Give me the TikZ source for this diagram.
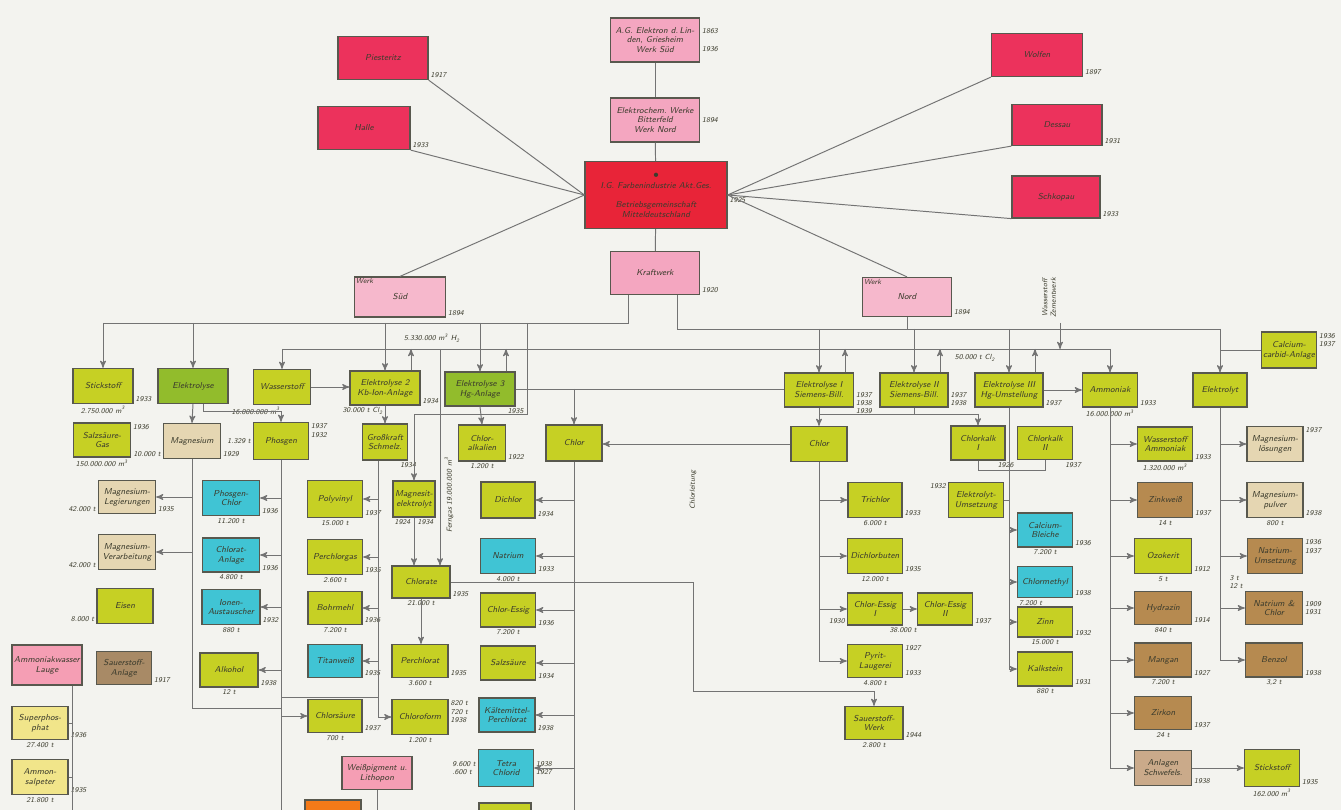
\documentclass[tikz,border=0pt]{standalone}
\usepackage[svgnames]{xcolor}
\usepackage{tikz}
\usetikzlibrary{arrows,calc}

\definecolor{paper}{RGB}{243,243,239}
\definecolor{cRed}{RGB}{232,36,56}
\definecolor{cCrimson}{RGB}{236,50,92}
\definecolor{cRose}{RGB}{244,166,192}
\definecolor{cPink}{RGB}{246,184,204}
\definecolor{cLime}{RGB}{198,208,36}
\definecolor{cLeaf}{RGB}{146,188,44}
\definecolor{cSand}{RGB}{229,214,178}
\definecolor{cAqua}{RGB}{64,196,212}
\definecolor{cOchre}{RGB}{182,138,80}
\definecolor{cTan}{RGB}{202,170,138}
\definecolor{cClay}{RGB}{168,138,102}
\definecolor{cStraw}{RGB}{241,229,138}
\definecolor{cSalmon}{RGB}{245,158,180}
\definecolor{cOrange}{RGB}{245,122,24}
\definecolor{cFrame}{RGB}{88,88,78}
\definecolor{wire}{RGB}{115,115,115}
\definecolor{ink}{RGB}{60,60,45}

\newcommand{\cube}{m\textsuperscript{3}}

\tikzset{
  plant/.style={draw=cFrame, line width=0.7pt, minimum width=1.1cm, minimum height=0.68cm,
    inner sep=0.5pt, align=center, text=ink, font=\fontsize{4.9}{5.6}\selectfont\sffamily\itshape},
  sz/.style 2 args={minimum width=#1*0.02cm, minimum height=#2*0.02cm},
  redbox/.style={plant,fill=cRed},
  crimsonbox/.style={plant,fill=cCrimson},
  rosebox/.style={plant,fill=cRose},
  pinkbox/.style={plant,fill=cPink},
  limebox/.style={plant,fill=cLime},
  leafbox/.style={plant,fill=cLeaf},
  sandbox/.style={plant,fill=cSand},
  aquabox/.style={plant,fill=cAqua},
  ochrebox/.style={plant,fill=cOchre},
  tanbox/.style={plant,fill=cTan},
  claybox/.style={plant,fill=cClay},
  strawbox/.style={plant,fill=cStraw},
  salmonbox/.style={plant,fill=cSalmon},
  orangebox/.style={plant,fill=cOrange},
  yr/.style={font=\fontsize{4.2}{4.8}\selectfont\sffamily\itshape, text=ink, inner sep=1pt, align=left},
  yrr/.style={label={[yr,anchor=south west]south east:#1}},
  qty/.style={label={[yr,anchor=north]south:#1}},
  qleft/.style={label={[yr,anchor=east]west:#1}},
  qright/.style={label={[yr,anchor=west]east:#1}},
  ln/.style={draw=wire, line width=0.55pt},
  arr/.style={ln, ->, >=stealth'},
}

\begin{document}
\begin{tikzpicture}[x=0.02cm,y=-0.02cm]
\useasboundingbox (0,0) rectangle (1341,810);
\clip (0,0) rectangle (1341,810);
\fill[paper] (0,0) rectangle (1341,810);

% head office and works
\node[rosebox,sz={89}{44},qright={1863\\[5pt]1936}] (sued0) at (655,40) {A.G. Elektron d.\,Lin-\\den, Griesheim\\Werk Süd};
\node[rosebox,sz={89}{44},qright=1894] (nord0) at (655,120) {Elektrochem.\ Werke\\Bitterfeld\\Werk Nord};
\node[redbox,sz={142}{67},label={[yr,anchor=north west]east:1925}] (ig) at (656,195)
  {$\bullet$\\[1pt]I.G. Farbenindustrie Akt.Ges.\\[5pt]Betriebsgemeinschaft\\Mitteldeutschland};
\node[rosebox,sz={89}{43},yrr=1920] (erd) at (655,273) {Kraftwerk};
\node[crimsonbox,sz={90}{43},yrr=1917] (piest) at (383,58) {Piesteritz};
\node[crimsonbox,sz={92}{43},yrr=1933] (halle) at (364,128) {Halle};
\node[crimsonbox,sz={91}{43},yrr=1897] (wolfen) at (1037,55) {Wolfen};
\node[crimsonbox,sz={90}{41},yrr=1931] (dessau) at (1057,125) {Dessau};
\node[crimsonbox,sz={88}{42},yrr=1933] (schkop) at (1056,197) {Schkopau};
\node[pinkbox,sz={91}{40},yrr=1894,label={[yr,anchor=north west]north west:Werk}] (sued) at (400,297) {Süd};
\node[pinkbox,sz={89}{39},yrr=1894,label={[yr,anchor=north west]north west:Werk}] (nord) at (907,297) {Nord};

\draw[ln] (ig.west) -- (piest.south east);
\draw[ln] (ig.west) -- (halle.south east);
\draw[ln] (ig.west) -- (sued.north);
\draw[ln] (ig.east) -- (wolfen.south west);
\draw[ln] (ig.east) -- (dessau.south west);
\draw[ln] (ig.east) -- (schkop.south west);
\draw[ln] (ig.east) -- (nord.north);
\draw[ln] (sued0) -- (nord0);
\draw[ln] (nord0) -- (ig);
\draw[ln] (ig) -- (erd);

% first row
\node[limebox,sz={60}{35},yrr=1933,qty={2.750.000 \cube}] (stick) at (103,386) {Stickstoff};
\node[leafbox,sz={70}{35}] (elek) at (193,386) {Elektrolyse};
\node[limebox,sz={57}{35},label={[yr,anchor=north east]south:16.000.000 \cube}] (wass) at (282,387) {Wasserstoff};
\node[limebox,sz={70}{34},yrr=1934,label={[yr,anchor=north east]south:30.000 t Cl\textsubscript{2}}] (el2) at (385,388) {Elektrolyse 2\\Kb-Ion-Anlage};
\node[leafbox,sz={70}{34},label={[yr,anchor=north]south east:1935}] (el3) at (480,389) {Elektrolyse 3\\Hg-Anlage};
\node[limebox,sz={69}{34},label={[yr,anchor=north west]east:1937\\1938\\1939}] (elI) at (819,390) {Elektrolyse I\\Siemens-Bill.};
\node[limebox,sz={68}{34},label={[yr,anchor=north west]east:1937\\1938}] (elII) at (914,390) {Elektrolyse II\\Siemens-Bill.};
\node[limebox,sz={68}{34},yrr=1937] (elIII) at (1009,390) {Elektrolyse III\\Hg-Umstellung};
\node[limebox,sz={55}{34},yrr=1933,qty={16.000.000 \cube}] (amm) at (1110,390) {Ammoniak};
\node[limebox,sz={54}{34}] (elyt) at (1220,390) {Elektrolyt};
\node[limebox,sz={55}{36},label={[yr,anchor=north west]north east:1936\\1937}] (calc) at (1289,350) {Calcium-\\carbid-Anlage};

% second row
\node[limebox,sz={57}{34},label={[yr,anchor=north west]north east:1936},qty={150.000.000 \cube}] (salz) at (102,440) {Salzsäure-\\Gas};
\node[sandbox,sz={57}{35},yrr=1929,label={[yr,anchor=south east]south west:10.000 t}] (mag) at (192,441) {Magnesium};
\node[limebox,sz={55}{37},qleft={1.329 t},label={[yr,anchor=north west]north east:1937\\1932}] (phos) at (281,441) {Phosgen};
\node[limebox,sz={45}{36},label={[yr,anchor=north]south east:1934}] (gross) at (385,442) {Großkraft\\Schmelz.};
\node[limebox,sz={47}{36},yrr=1922,qty={1.200 t}] (chalk) at (482,443) {Chlor-\\alkalien};
\node[limebox,sz={56}{36}] (chlL) at (574,443) {Chlor};
\node[limebox,sz={56}{35}] (chlR) at (819,444) {Chlor};
\node[limebox,sz={54}{34},label={[yr,anchor=north]south east:1926}] (ckI) at (978,443) {Chlorkalk\\I};
\node[limebox,sz={55}{33},label={[yr,anchor=north]south east:1937}] (ckII) at (1045,443) {Chlorkalk\\II};
\node[limebox,sz={55}{34},yrr=1933,qty={1.320.000 \cube}] (wamm) at (1165,444) {Wasserstoff\\Ammoniak};
\node[sandbox,sz={56}{35},label={[yr,anchor=north west]north east:1937}] (mgl) at (1275,444) {Magnesium-\\lösungen};

% third row
\node[sandbox,sz={57}{33},yrr=1935,label={[yr,anchor=south east]south west:42.000 t}] (mgleg) at (127,497) {Magnesium-\\Legierungen};
\node[aquabox,sz={57}{35},yrr=1936,qty={11.200 t}] (phch) at (231,498) {Phosgen-\\Chlor};
\node[limebox,sz={55}{37},yrr=1937,qty={15.000 t}] (poly) at (335,499) {Polyvinyl};
\node[limebox,sz={42}{36},qty={1924\quad 1934}] (magn) at (414,499) {Magnesit-\\elektrolyt};
\node[limebox,sz={54}{36},yrr=1934] (dichl) at (508,500) {Dichlor};
\node[limebox,sz={54}{35},yrr=1933,qty={6.000 t}] (tri) at (875,500) {Trichlor};
\node[limebox,sz={55}{35},label={[yr,anchor=north east]north west:1932}] (eum) at (976,500) {Elektrolyt-\\Umsetzung};
\node[aquabox,sz={55}{34},yrr=1936,qty={7.200 t}] (calcb) at (1045,530) {Calcium-\\Bleiche};
\node[ochrebox,sz={55}{35},yrr=1937,qty={14 t}] (zinkw) at (1165,500) {Zinkweiß};
\node[sandbox,sz={56}{35},yrr=1938,qty={800 t}] (mgp) at (1275,500) {Magnesium-\\pulver};

% fourth row
\node[sandbox,sz={57}{35},label={[yr,anchor=south east]south west:42.000 t}] (mgf) at (127,552) {Magnesium-\\Verarbeitung};
\node[aquabox,sz={57}{34},yrr=1936,qty={4.800 t}] (chlat) at (231,555) {Chlorat-\\Anlage};
\node[limebox,sz={55}{35},yrr=1935,qty={2.600 t}] (perg) at (335,557) {Perchlorgas};
\node[limebox,sz={58}{32},yrr=1935,qty={21.000 t}] (chlorat) at (421,582) {Chlorate};
\node[aquabox,sz={55}{35},yrr=1933,qty={4.000 t}] (natr) at (508,556) {Natrium};
\node[limebox,sz={55}{35},yrr=1935,qty={12.000 t}] (dcb) at (875,556) {Dichlorbuten};
\node[aquabox,sz={55}{31},yrr=1938,label={[yr,anchor=north west]south west:7.200 t}] (cmeth) at (1045,582) {Chlormethyl};
\node[limebox,sz={57}{35},yrr=1912,qty={5 t}] (ozok) at (1163,556) {Ozokerit};
\node[ochrebox,sz={55}{35},label={[yr,anchor=north west]north east:1936\\1937}] (naum) at (1275,556) {Natrium-\\Umsetzung};

% fifth row
\node[limebox,sz={56}{35},label={[yr,anchor=south east]south west:8.000 t}] (eisen) at (125,606) {Eisen};
\node[aquabox,sz={58}{35},yrr=1932,qty={880 t}] (ionen) at (231,607) {Ionen-\\Austauscher};
\node[limebox,sz={54}{33},yrr=1936,qty={7.200 t}] (bohr) at (335,608) {Bohrmehl};
\node[limebox,sz={55}{34},yrr=1936,qty={7.200 t}] (chess) at (508,610) {Chlor-Essig};
\node[limebox,sz={55}{32},label={[yr,anchor=south east]south west:1930},label={[yr,anchor=north]south east:38.000 t}] (cessI) at (875,609) {Chlor-Essig\\I};
\node[limebox,sz={55}{32},yrr=1937] (cessII) at (945,609) {Chlor-Essig\\II};
\node[limebox,sz={55}{30},yrr=1932,qty={15.000 t}] (zinn) at (1045,622) {Zinn};
\node[ochrebox,sz={57}{33},yrr=1914,qty={840 t}] (hydr) at (1163,608) {Hydrazin};
\node[ochrebox,sz={57}{33},qright={1909\\1931},label={[yr,anchor=south east]north west:3 t\\12 t}] (nach) at (1274,608) {Natrium \&\\Chlor};

% sixth row
\node[salmonbox,sz={70}{40}] (amwl) at (47,665) {Ammoniakwasser\\Lauge};
\node[claybox,sz={55}{33},yrr=1917] (sonnen) at (124,668) {Sauerstoff-\\Anlage};
\node[limebox,sz={58}{34},yrr=1938,qty={12 t}] (alk) at (229,670) {Alkohol};
\node[aquabox,sz={54}{33},yrr=1935] (titan) at (335,661) {Titanweiß};
\node[limebox,sz={56}{33},yrr=1935,qty={3.600 t}] (perc) at (420,661) {Perchlorat};
\node[limebox,sz={55}{34},yrr=1934] (salzs) at (508,663) {Salzsäure};
\node[limebox,sz={55}{33},yrr=1933,label={[yr,anchor=north west]north east:1927},qty={4.800 t}] (pyr) at (875,661) {Pyrit-\\Laugerei};
\node[limebox,sz={55}{34},yrr=1931,qty={880 t}] (kalk) at (1045,669) {Kalkstein};
\node[ochrebox,sz={57}{34},yrr=1927,qty={7.200 t}] (mang) at (1163,660) {Mangan};
\node[ochrebox,sz={57}{34},yrr=1938,qty={3,2 t}] (benz) at (1274,660) {Benzol};

% seventh row
\node[strawbox,sz={56}{33},yrr=1936,qty={27.400 t}] (superp) at (40,723) {Superphos-\\phat};
\node[limebox,sz={54}{33},yrr=1937,qty={700 t}] (chls) at (335,716) {Chlorsäure};
\node[limebox,sz={56}{35},label={[yr,anchor=north west]north east:820 t\\720 t\\1938},qty={1.200 t}] (chlfm) at (420,717) {Chloroform};
\node[aquabox,sz={56}{34},yrr=1938] (kaelt) at (507,715) {Kältemittel-\\Perchlorat};
\node[limebox,sz={58}{33},yrr=1944,qty={2.800 t}] (sauer) at (874,723) {Sauerstoff-\\Werk};
\node[ochrebox,sz={57}{33},yrr=1937,qty={24 t}] (zinnw) at (1163,713) {Zirkon};

% eighth row
\node[strawbox,sz={56}{35},yrr=1935,qty={21.800 t}] (amsal) at (40,777) {Ammon-\\salpeter};
\node[salmonbox,sz={70}{33}] (hdl) at (377,773) {Weißpigment u.\\Lithopon};
\node[orangebox,sz={56}{30}] (orng) at (333,815) {};
\node[aquabox,sz={55}{37},qleft={9.600 t\\.600 t},qright={1938\\1927}] (tetra) at (506,768) {Tetra\\Chlorid};
\node[limebox,sz={52}{34}] (gcut) at (505,820) {};
\node[tanbox,sz={57}{35},yrr=1938] (anl) at (1163,768) {Anlagen\\Schwefels.};
\node[limebox,sz={55}{37},yrr=1935,qty={162.000 \cube}] (stoff) at (1272,768) {Stickstoff};

% texts on the lines
\node[yr] (h2lbl) at (432,338) {5.330.000 \cube\ H\textsubscript{2}};
\node[yr] (cllbl) at (975,358) {50.000 t Cl\textsubscript{2}};
\node[yr,rotate=90,align=center] (zemlbl) at (1049,298) {Wasserstoff\\Zementwerk};
\node[yr,rotate=90] (fglbl) at (449,495) {Ferngas 19.000.000 \cube};
\node[yr,rotate=90] (cllt) at (693,490) {Chlorleitung};

% supply lines
\coordinate (lbus) at (628,323);
\coordinate (rbus) at (677,329);
\coordinate (hbus) at (283,349);
\coordinate (zem) at (1060,323);
\draw[ln] (erd.south -| lbus) -- (lbus) -- (lbus -| stick.north);
\foreach \n in {stick,elek,el2,el3} \draw[arr] (lbus -| \n.north) -- (\n.north);
\draw[ln] (erd.south -| rbus) -- (rbus) -- (rbus -| elyt.north);
\foreach \n in {elI,elII,elIII,elyt} \draw[arr] (rbus -| \n.north) -- (\n.north);
\draw[ln] (nord.south) -- (nord.south |- rbus);
\draw[ln] (hbus) -- (hbus -| amm.north);
\draw[arr] (hbus -| wass.north) -- (wass.north);
\draw[arr] (hbus -| amm.north) -- (amm.north);
\foreach \n in {el2,el3,elI,elII,elIII} \draw[arr] ($(\n.north)+(26,0)$) coordinate (up) -- (up |- hbus);
\draw[ln] (calc.west) -- (calc.west -| elyt.north);
\draw[arr] (zem) -- (zem |- hbus);

% chlorine line
\draw[arr] (wass.east) -- (wass.east -| el2.west);
\draw[ln] (el3.east) -- (el3.east -| elI.west);
\draw[arr] (elIII.east) -- (elIII.east -| amm.west);
\draw[arr] (chlL.north |- el3.east) -- (chlL.north);
\coordinate (cbus) at (819,414);
\draw[ln] (elI.south) -- (cbus) -- (cbus -| ckI.north);
\draw[ln] (elII.south) -- (elII.south |- cbus);
\draw[arr] (cbus -| ckI.north) -- (ckI.north);
\draw[arr] (cbus) -- (chlR.north);
\draw[arr] (chlR.west) -- (chlR.west -| chlL.east);

% chlor branches
\draw[ln] (chlR.south) -- (chlR.south |- pyr.west);
\foreach \n in {tri,dcb,cessI,pyr} \draw[arr] (chlR.south |- \n.west) -- (\n.west);
\draw[arr] (cessI.east) -- (cessII.west);
\draw[ln] (chlL.south) -- ++(0,360);
\foreach \n in {dichl,natr,chess,salzs,kaelt,tetra} \draw[arr] (chlL.south |- \n.east) -- (\n.east);
\draw[arr] (chlorat.east) -- ++(243,0) |- ($(sauer.north)+(0,-14)$) -- (sauer.north);

% left branches
\draw[arr] (elek.south) -- (mag.north);
\draw[arr] ($(elek.south)+(10,0)$) |- ($(phos.north)+(0,-10)$) -- (phos.north);
\draw[ln] (mag.south) |- ($(phos.south)+(0,248)$);
\foreach \n in {mgleg,mgf} \draw[arr] (mag.south |- \n.east) -- (\n.east);
\draw[ln] (phos.south) -- ++(0,360);
\foreach \n in {phch,chlat,ionen,alk} \draw[arr] (phos.south |- \n.east) -- (\n.east);
\draw[arr] (phos.south |- chls.west) -- (chls.west);
\draw[arr] (el2.south) -- (gross.north);
\coordinate (gtr) at ($(gross.south)+(-7,0)$);
\draw[ln] (gtr) -- (gtr |- chlfm.west);
\foreach \n in {poly,perg,bohr,titan} \draw[arr] (gtr |- \n.east) -- (\n.east);
\draw[arr] (gtr |- chlfm.west) -- (chlfm.west);
\path (phos.south) ++(0,237) coordinate (pj);
\draw[ln] (pj) -- (pj -| gtr);
\draw[arr] (el3.south) -- (chalk.north);
\coordinate (mbus) at (527,323);
\draw[arr] (mbus) |- ($(magn.north)+(0,-66)$) -- (magn.north);
\coordinate (fgas) at (440,349);
\draw[arr] (fgas) -- (fgas |- chlorat.north);
\draw[arr] (magn.south) -- (magn.south |- chlorat.north);
\draw[arr] (chlorat.south) -- (chlorat.south |- perc.north);
\draw[ln] (hdl.south) -- ++(0,30);
\coordinate (atr) at ($(amwl.south)+(25,0)$);
\draw[ln] (atr) -- ++(0,140);
\foreach \n in {superp,amsal} \draw[ln] (atr |- \n.east) -- (\n.east);

% right branches
\draw[ln] (amm.south) -- (amm.south |- anl.west);
\foreach \n in {wamm,zinkw,ozok,hydr,mang,zinnw,anl} \draw[arr] (amm.south |- \n.west) -- (\n.west);
\draw[ln] (elyt.south) -- (elyt.south |- benz.west);
\foreach \n in {mgl,mgp,naum,nach,benz} \draw[arr] (elyt.south |- \n.west) -- (\n.west);
\draw[arr] (anl.east) -- (stoff.west);
\draw[ln] (elIII.south) -- (elIII.south |- kalk.west);
\foreach \n in {calcb,cmeth,zinn,kalk} \draw[arr] (elIII.south |- \n.west) -- (\n.west);
\draw[ln] (eum.east) -- (eum.east -| elIII.south);
\draw[ln] (ckI.south) |- ($(ckII.south)+(0,10)$) -- (ckII.south);

\end{tikzpicture}
\end{document}
